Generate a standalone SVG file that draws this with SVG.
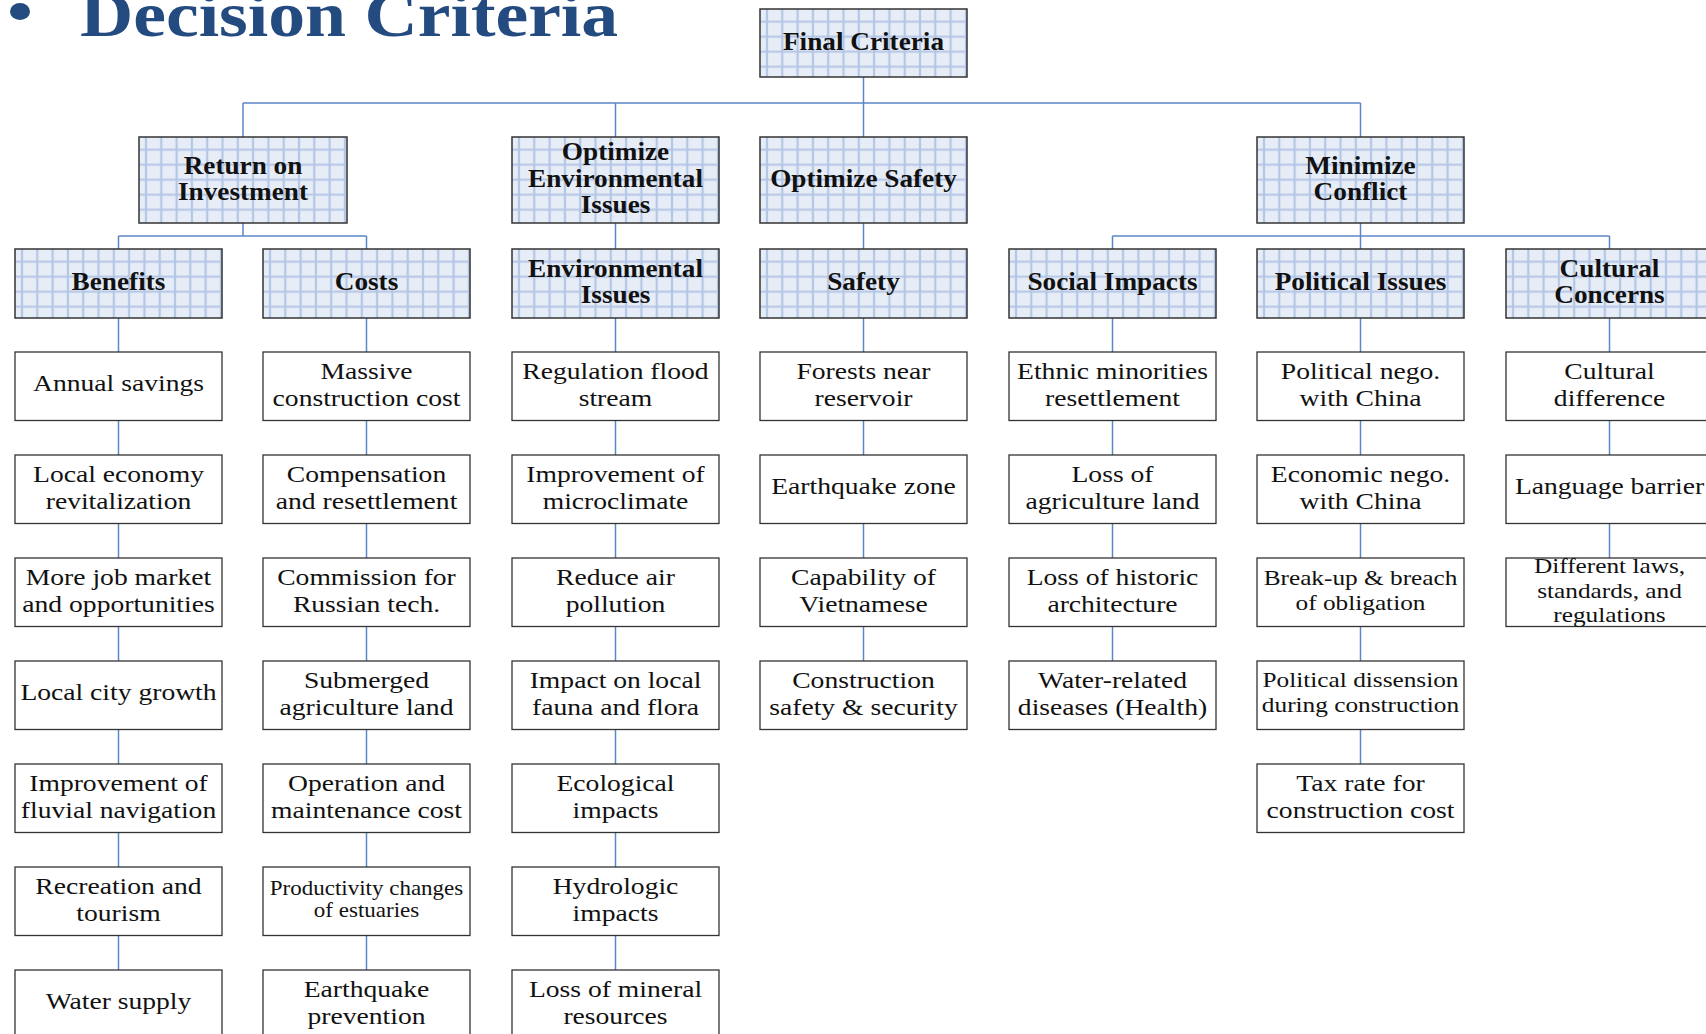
<svg xmlns="http://www.w3.org/2000/svg" width="1706" height="1034" viewBox="0 0 1706 1034">
<defs>
<pattern id="grid" patternUnits="userSpaceOnUse" x="-0.65" y="5.2" width="15.3" height="15">
<rect width="15.3" height="15" fill="#E7EDF7"/>
<path d="M7.65 0V15M0 7.5H15.3" stroke="#B3C6E5" stroke-width="2.2" fill="none"/>
</pattern>
<style>
.hb{fill:url(#grid);stroke:#333;stroke-width:1.5}
.lb{fill:#fff;stroke:#333;stroke-width:1.3}
.ht{font-family:"Liberation Serif","Times New Roman",serif;font-weight:bold;font-size:25px;text-anchor:middle;fill:#111}
.lt{font-family:"Liberation Serif","Times New Roman",serif;font-size:24px;text-anchor:middle;fill:#111}
.s20{font-size:20px}
.s22{font-size:22px}
.cn{stroke:#5B87C8;stroke-width:1.5;fill:none}
.title{font-family:"Liberation Serif","Times New Roman",serif;font-weight:bold;font-size:63px;fill:#234B80}
</style>
</defs>
<rect width="1706" height="1034" fill="#fff"/>
<g id="title">
<ellipse cx="20" cy="11.5" rx="10" ry="8.5" fill="#234B80"/>
<text class="title" transform="matrix(1.17 0 0 1 80 0)" x="0" y="36">Decision Criteria</text>
</g>
<g id="connectors" class="cn">
<path d="M863.5 77V103M243 103H1360.5M243 103V137M615.5 103V137M863.5 103V137M1360.5 103V137"/>
<path d="M243 223V236M118.5 236H366.5M118.5 236V249M366.5 236V249"/>
<path d="M615.5 223V249M863.5 223V249"/>
<path d="M1360.5 223V249M1112.5 236H1609.5M1112.5 236V249M1609.5 236V249"/>
<path d="M118.5 318V352M118.5 420.5V455M118.5 523.5V558M118.5 626.5V661M118.5 729.5V764M118.5 832.5V867M118.5 935.5V970"/>
<path d="M366.5 318V352M366.5 420.5V455M366.5 523.5V558M366.5 626.5V661M366.5 729.5V764M366.5 832.5V867M366.5 935.5V970"/>
<path d="M615.5 318V352M615.5 420.5V455M615.5 523.5V558M615.5 626.5V661M615.5 729.5V764M615.5 832.5V867M615.5 935.5V970"/>
<path d="M863.5 318V352M863.5 420.5V455M863.5 523.5V558M863.5 626.5V661"/>
<path d="M1112.5 318V352M1112.5 420.5V455M1112.5 523.5V558M1112.5 626.5V661"/>
<path d="M1360.5 318V352M1360.5 420.5V455M1360.5 523.5V558M1360.5 626.5V661M1360.5 729.5V764"/>
<path d="M1609.5 318V352M1609.5 420.5V455M1609.5 523.5V558"/>
</g>

<!-- Level 0 -->
<g id="n-final" transform="translate(760,9)"><rect class="hb" width="207" height="68"/><text class="ht" transform="matrix(1.09 0 0 1 103.5 0)"><tspan x="0" y="41.5">Final Criteria</tspan></text></g>

<!-- Level 1 -->
<g id="n-roi" transform="translate(139,137)"><rect class="hb" width="208" height="86"/><text class="ht" transform="matrix(1.09 0 0 1 104 0)"><tspan x="0" y="37">Return on</tspan><tspan x="0" y="63">Investment</tspan></text></g>
<g id="n-optenv" transform="translate(512,137)"><rect class="hb" width="207" height="86"/><text class="ht" transform="matrix(1.09 0 0 1 103.5 0)"><tspan x="0" y="23">Optimize</tspan><tspan x="0" y="50">Environmental</tspan><tspan x="0" y="76">Issues</tspan></text></g>
<g id="n-optsafety" transform="translate(760,137)"><rect class="hb" width="207" height="86"/><text class="ht" transform="matrix(1.09 0 0 1 103.5 0)"><tspan x="0" y="50">Optimize Safety</tspan></text></g>
<g id="n-minconf" transform="translate(1257,137)"><rect class="hb" width="207" height="86"/><text class="ht" transform="matrix(1.09 0 0 1 103.5 0)"><tspan x="0" y="37">Minimize</tspan><tspan x="0" y="63">Conflict</tspan></text></g>

<!-- Level 2 -->
<g id="n-benefits" transform="translate(15,249)"><rect class="hb" width="207" height="69"/><text class="ht" transform="matrix(1.09 0 0 1 103.5 0)"><tspan x="0" y="41.5">Benefits</tspan></text></g>
<g id="n-costs" transform="translate(263,249)"><rect class="hb" width="207" height="69"/><text class="ht" transform="matrix(1.09 0 0 1 103.5 0)"><tspan x="0" y="41.5">Costs</tspan></text></g>
<g id="n-envissues" transform="translate(512,249)"><rect class="hb" width="207" height="69"/><text class="ht" transform="matrix(1.09 0 0 1 103.5 0)"><tspan x="0" y="28">Environmental</tspan><tspan x="0" y="54">Issues</tspan></text></g>
<g id="n-safety" transform="translate(760,249)"><rect class="hb" width="207" height="69"/><text class="ht" transform="matrix(1.09 0 0 1 103.5 0)"><tspan x="0" y="41.5">Safety</tspan></text></g>
<g id="n-social" transform="translate(1009,249)"><rect class="hb" width="207" height="69"/><text class="ht" transform="matrix(1.09 0 0 1 103.5 0)"><tspan x="0" y="41.5">Social Impacts</tspan></text></g>
<g id="n-political" transform="translate(1257,249)"><rect class="hb" width="207" height="69"/><text class="ht" transform="matrix(1.09 0 0 1 103.5 0)"><tspan x="0" y="41.5">Political Issues</tspan></text></g>
<g id="n-cultural" transform="translate(1506,249)"><rect class="hb" width="207" height="69"/><text class="ht" transform="matrix(1.09 0 0 1 103.5 0)"><tspan x="0" y="28">Cultural</tspan><tspan x="0" y="54">Concerns</tspan></text></g>

<!-- Column 0: Benefits -->
<g id="b1" transform="translate(15,352)"><rect class="lb" width="207" height="68.5"/><text class="lt" transform="matrix(1.15 0 0 1 103.5 0)"><tspan x="0" y="39.5">Annual savings</tspan></text></g>
<g id="b2" transform="translate(15,455)"><rect class="lb" width="207" height="68.5"/><text class="lt" transform="matrix(1.15 0 0 1 103.5 0)"><tspan x="0" y="26.75">Local economy</tspan><tspan x="0" y="53.75">revitalization</tspan></text></g>
<g id="b3" transform="translate(15,558)"><rect class="lb" width="207" height="68.5"/><text class="lt" transform="matrix(1.15 0 0 1 103.5 0)"><tspan x="0" y="26.75">More job market</tspan><tspan x="0" y="53.75">and opportunities</tspan></text></g>
<g id="b4" transform="translate(15,661)"><rect class="lb" width="207" height="68.5"/><text class="lt" transform="matrix(1.15 0 0 1 103.5 0)"><tspan x="0" y="39.5">Local city growth</tspan></text></g>
<g id="b5" transform="translate(15,764)"><rect class="lb" width="207" height="68.5"/><text class="lt" transform="matrix(1.15 0 0 1 103.5 0)"><tspan x="0" y="26.75">Improvement of</tspan><tspan x="0" y="53.75">fluvial navigation</tspan></text></g>
<g id="b6" transform="translate(15,867)"><rect class="lb" width="207" height="68.5"/><text class="lt" transform="matrix(1.15 0 0 1 103.5 0)"><tspan x="0" y="26.75">Recreation and</tspan><tspan x="0" y="53.75">tourism</tspan></text></g>
<g id="b7" transform="translate(15,970)"><rect class="lb" width="207" height="68.5"/><text class="lt" transform="matrix(1.15 0 0 1 103.5 0)"><tspan x="0" y="39.5">Water supply</tspan></text></g>

<!-- Column 1: Costs -->
<g id="c1" transform="translate(263,352)"><rect class="lb" width="207" height="68.5"/><text class="lt" transform="matrix(1.15 0 0 1 103.5 0)"><tspan x="0" y="26.75">Massive</tspan><tspan x="0" y="53.75">construction cost</tspan></text></g>
<g id="c2" transform="translate(263,455)"><rect class="lb" width="207" height="68.5"/><text class="lt" transform="matrix(1.15 0 0 1 103.5 0)"><tspan x="0" y="26.75">Compensation</tspan><tspan x="0" y="53.75">and resettlement</tspan></text></g>
<g id="c3" transform="translate(263,558)"><rect class="lb" width="207" height="68.5"/><text class="lt" transform="matrix(1.15 0 0 1 103.5 0)"><tspan x="0" y="26.75">Commission for</tspan><tspan x="0" y="53.75">Russian tech.</tspan></text></g>
<g id="c4" transform="translate(263,661)"><rect class="lb" width="207" height="68.5"/><text class="lt" transform="matrix(1.15 0 0 1 103.5 0)"><tspan x="0" y="26.75">Submerged</tspan><tspan x="0" y="53.75">agriculture land</tspan></text></g>
<g id="c5" transform="translate(263,764)"><rect class="lb" width="207" height="68.5"/><text class="lt" transform="matrix(1.15 0 0 1 103.5 0)"><tspan x="0" y="26.75">Operation and</tspan><tspan x="0" y="53.75">maintenance cost</tspan></text></g>
<g id="c6" transform="translate(263,867)"><rect class="lb" width="207" height="68.5"/><text class="lt s20" transform="matrix(1.15 0 0 1 103.5 0)"><tspan x="0" y="28">Productivity changes</tspan><tspan x="0" y="50">of estuaries</tspan></text></g>
<g id="c7" transform="translate(263,970)"><rect class="lb" width="207" height="68.5"/><text class="lt" transform="matrix(1.15 0 0 1 103.5 0)"><tspan x="0" y="26.75">Earthquake</tspan><tspan x="0" y="53.75">prevention</tspan></text></g>

<!-- Column 2: Environmental -->
<g id="e1" transform="translate(512,352)"><rect class="lb" width="207" height="68.5"/><text class="lt" transform="matrix(1.15 0 0 1 103.5 0)"><tspan x="0" y="26.75">Regulation flood</tspan><tspan x="0" y="53.75">stream</tspan></text></g>
<g id="e2" transform="translate(512,455)"><rect class="lb" width="207" height="68.5"/><text class="lt" transform="matrix(1.15 0 0 1 103.5 0)"><tspan x="0" y="26.75">Improvement of</tspan><tspan x="0" y="53.75">microclimate</tspan></text></g>
<g id="e3" transform="translate(512,558)"><rect class="lb" width="207" height="68.5"/><text class="lt" transform="matrix(1.15 0 0 1 103.5 0)"><tspan x="0" y="26.75">Reduce air</tspan><tspan x="0" y="53.75">pollution</tspan></text></g>
<g id="e4" transform="translate(512,661)"><rect class="lb" width="207" height="68.5"/><text class="lt" transform="matrix(1.15 0 0 1 103.5 0)"><tspan x="0" y="26.75">Impact on local</tspan><tspan x="0" y="53.75">fauna and flora</tspan></text></g>
<g id="e5" transform="translate(512,764)"><rect class="lb" width="207" height="68.5"/><text class="lt" transform="matrix(1.15 0 0 1 103.5 0)"><tspan x="0" y="26.75">Ecological</tspan><tspan x="0" y="53.75">impacts</tspan></text></g>
<g id="e6" transform="translate(512,867)"><rect class="lb" width="207" height="68.5"/><text class="lt" transform="matrix(1.15 0 0 1 103.5 0)"><tspan x="0" y="26.75">Hydrologic</tspan><tspan x="0" y="53.75">impacts</tspan></text></g>
<g id="e7" transform="translate(512,970)"><rect class="lb" width="207" height="68.5"/><text class="lt" transform="matrix(1.15 0 0 1 103.5 0)"><tspan x="0" y="26.75">Loss of mineral</tspan><tspan x="0" y="53.75">resources</tspan></text></g>

<!-- Column 3: Safety -->
<g id="s1" transform="translate(760,352)"><rect class="lb" width="207" height="68.5"/><text class="lt" transform="matrix(1.15 0 0 1 103.5 0)"><tspan x="0" y="26.75">Forests near</tspan><tspan x="0" y="53.75">reservoir</tspan></text></g>
<g id="s2" transform="translate(760,455)"><rect class="lb" width="207" height="68.5"/><text class="lt" transform="matrix(1.15 0 0 1 103.5 0)"><tspan x="0" y="39.5">Earthquake zone</tspan></text></g>
<g id="s3" transform="translate(760,558)"><rect class="lb" width="207" height="68.5"/><text class="lt" transform="matrix(1.15 0 0 1 103.5 0)"><tspan x="0" y="26.75">Capability of</tspan><tspan x="0" y="53.75">Vietnamese</tspan></text></g>
<g id="s4" transform="translate(760,661)"><rect class="lb" width="207" height="68.5"/><text class="lt" transform="matrix(1.15 0 0 1 103.5 0)"><tspan x="0" y="26.75">Construction</tspan><tspan x="0" y="53.75">safety &amp; security</tspan></text></g>

<!-- Column 4: Social -->
<g id="si1" transform="translate(1009,352)"><rect class="lb" width="207" height="68.5"/><text class="lt" transform="matrix(1.15 0 0 1 103.5 0)"><tspan x="0" y="26.75">Ethnic minorities</tspan><tspan x="0" y="53.75">resettlement</tspan></text></g>
<g id="si2" transform="translate(1009,455)"><rect class="lb" width="207" height="68.5"/><text class="lt" transform="matrix(1.15 0 0 1 103.5 0)"><tspan x="0" y="26.75">Loss of</tspan><tspan x="0" y="53.75">agriculture land</tspan></text></g>
<g id="si3" transform="translate(1009,558)"><rect class="lb" width="207" height="68.5"/><text class="lt" transform="matrix(1.15 0 0 1 103.5 0)"><tspan x="0" y="26.75">Loss of historic</tspan><tspan x="0" y="53.75">architecture</tspan></text></g>
<g id="si4" transform="translate(1009,661)"><rect class="lb" width="207" height="68.5"/><text class="lt" transform="matrix(1.15 0 0 1 103.5 0)"><tspan x="0" y="26.75">Water-related</tspan><tspan x="0" y="53.75">diseases (Health)</tspan></text></g>

<!-- Column 5: Political -->
<g id="p1" transform="translate(1257,352)"><rect class="lb" width="207" height="68.5"/><text class="lt" transform="matrix(1.15 0 0 1 103.5 0)"><tspan x="0" y="26.75">Political nego.</tspan><tspan x="0" y="53.75">with China</tspan></text></g>
<g id="p2" transform="translate(1257,455)"><rect class="lb" width="207" height="68.5"/><text class="lt" transform="matrix(1.15 0 0 1 103.5 0)"><tspan x="0" y="26.75">Economic nego.</tspan><tspan x="0" y="53.75">with China</tspan></text></g>
<g id="p3" transform="translate(1257,558)"><rect class="lb" width="207" height="68.5"/><text class="lt s22" transform="matrix(1.15 0 0 1 103.5 0)"><tspan x="0" y="27.5">Break-up &amp; breach</tspan><tspan x="0" y="52.5">of obligation</tspan></text></g>
<g id="p4" transform="translate(1257,661)"><rect class="lb" width="207" height="68.5"/><text class="lt s22" transform="matrix(1.15 0 0 1 103.5 0)"><tspan x="0" y="26.5">Political dissension</tspan><tspan x="0" y="51.5">during construction</tspan></text></g>
<g id="p5" transform="translate(1257,764)"><rect class="lb" width="207" height="68.5"/><text class="lt" transform="matrix(1.15 0 0 1 103.5 0)"><tspan x="0" y="26.75">Tax rate for</tspan><tspan x="0" y="53.75">construction cost</tspan></text></g>

<!-- Column 6: Cultural -->
<g id="cu1" transform="translate(1506,352)"><rect class="lb" width="207" height="68.5"/><text class="lt" transform="matrix(1.15 0 0 1 103.5 0)"><tspan x="0" y="26.75">Cultural</tspan><tspan x="0" y="53.75">difference</tspan></text></g>
<g id="cu2" transform="translate(1506,455)"><rect class="lb" width="207" height="68.5"/><text class="lt" transform="matrix(1.15 0 0 1 103.5 0)"><tspan x="0" y="39.5">Language barrier</tspan></text></g>
<g id="cu3" transform="translate(1506,558)"><rect class="lb" width="207" height="68.5"/><text class="lt s22" transform="matrix(1.15 0 0 1 103.5 0)"><tspan x="0" y="15">Different laws,</tspan><tspan x="0" y="40">standards, and</tspan><tspan x="0" y="64">regulations</tspan></text></g>
</svg>
